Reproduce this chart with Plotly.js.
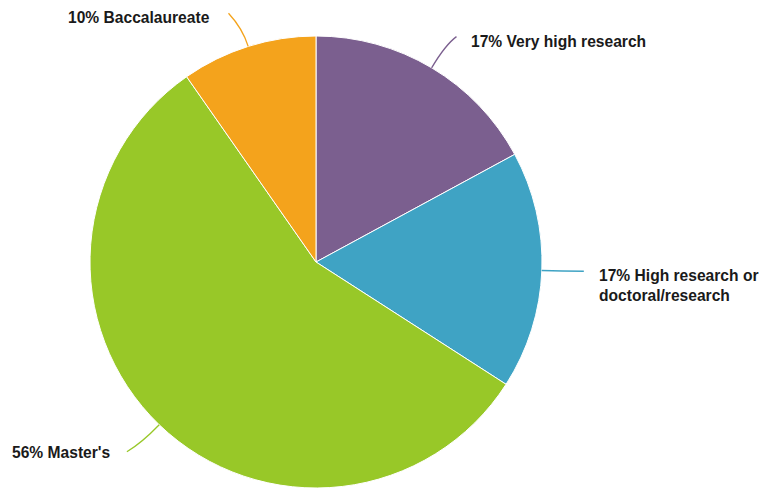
<!DOCTYPE html>
<html>
<head>
<meta charset="utf-8">
<script src="https://cdn.plot.ly/plotly-3.0.1.min.js"></script>
<style>html,body{margin:0;padding:0;background:#fff;}#chart{width:767px;height:489px;}</style>
</head>
<body>
<div id="chart"></div>
<script>
// Data
const categories = ["Very high research", "High research or<br>doctoral/research", "Master's", "Baccalaureate"];
const values = [17.1, 17.0, 56.2, 9.7];
const colors = ["#7B5F8F", "#3FA3C4", "#98C828", "#F4A31C"];

// Leader-line / label geometry (pixels): radial extension of bend, end offset, label offset
const leaderCfg = [
  {ext: 27, end: [11, -8],  lab: [13, 5],  anchor: "left"},
  {ext: 20, end: [22, 0],   lab: [13, 14], anchor: "left"},
  {ext: 25, end: [-15, 9],  lab: [-14, 1], anchor: "right"},
  {ext: 19, end: [-14, -15], lab: [-16, 4], anchor: "right"}
];

const W = 767, H = 489;
const cx = 316, cy = 262, R = 226;
const px = x => x / W, py = y => 1 - y / H;

const total = values.reduce((a, b) => a + b, 0);
const shapes = [], annotations = [];
let cum = 0;
values.forEach((v, i) => {
  const mid = (cum + v / 2) / total * 2 * Math.PI;
  cum += v;
  const dx = Math.sin(mid), dy = -Math.cos(mid);
  const c = leaderCfg[i];
  const p0 = [cx + R * dx, cy + R * dy];
  const ctrl = [cx + (R + c.ext) * dx, cy + (R + c.ext) * dy];
  const end = [ctrl[0] + c.end[0], ctrl[1] + c.end[1]];
  shapes.push({
    type: "path", xref: "paper", yref: "paper",
    path: `M ${px(p0[0])},${py(p0[1])} Q ${px(ctrl[0])},${py(ctrl[1])} ${px(end[0])},${py(end[1])}`,
    line: {color: colors[i], width: 1.3}
  });
  const pct = Math.round(v / total * 100);
  annotations.push({
    xref: "paper", yref: "paper",
    x: px(end[0] + c.lab[0]), y: py(end[1] + c.lab[1]),
    xanchor: c.anchor, yanchor: "middle", align: "left",
    showarrow: false,
    text: `<b>${pct}% ${categories[i]}</b>`,
    font: {family: "Liberation Sans, Arial, sans-serif", size: 15.6, color: "#1a1a1a"}
  });
});

const trace = {
  type: "pie",
  values: values,
  labels: categories,
  marker: {colors: colors, line: {color: "#ffffff", width: 1}},
  sort: false,
  direction: "clockwise",
  rotation: 0,
  textinfo: "none",
  hoverinfo: "label+percent",
  domain: {x: [(cx - R) / W, (cx + R) / W], y: [1 - (cy + R) / H, 1 - (cy - R) / H]}
};

Plotly.newPlot("chart", [trace], {
  width: W, height: H,
  margin: {l: 0, r: 0, t: 0, b: 0},
  showlegend: false,
  paper_bgcolor: "#fff",
  shapes: shapes,
  annotations: annotations
}, {displayModeBar: false, staticPlot: true});
</script>
</body>
</html>
